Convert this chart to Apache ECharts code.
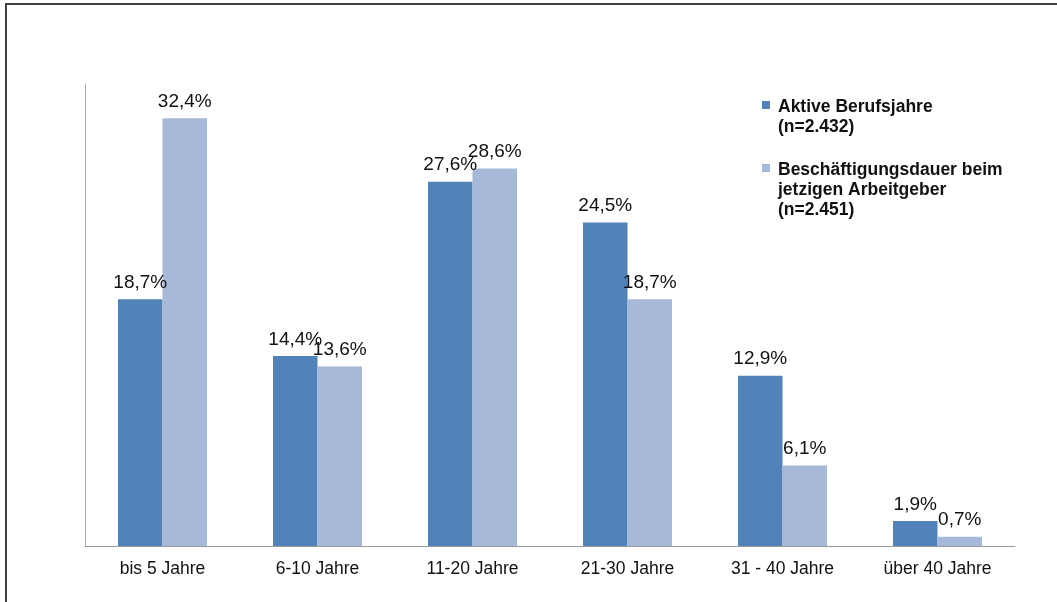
<!DOCTYPE html>
<html><head><meta charset="utf-8">
<script src="https://cdn.jsdelivr.net/npm/echarts@6/dist/echarts.min.js"></script>
<style>html,body{margin:0;padding:0;background:#fff}#c{width:1057px;height:602px}</style>
</head><body><div id="c"></div>
<script>
const categories = ['bis 5 Jahre', '6-10 Jahre', '11-20 Jahre', '21-30 Jahre', '31 - 40 Jahre', 'über 40 Jahre'];
const seriesNames = ['Aktive Berufsjahre\n(n=2.432)', 'Beschäftigungsdauer beim\njetzigen Arbeitgeber\n(n=2.451)'];
const aktive = [18.7, 14.4, 27.6, 24.5, 12.9, 1.9];
const beschaeftigung = [32.4, 13.6, 28.6, 18.7, 6.1, 0.7];
const colors = ['#5283b8', '#a6b9d9'];
const font = '"Liberation Sans", Arial, sans-serif';

const chart = echarts.init(document.getElementById('c'), null, {renderer: 'canvas'});
const lbl = {
  show: true, position: 'top', distance: 7,
  fontFamily: font, fontSize: 19, color: '#111',
  formatter: p => p.value.toFixed(1).replace('.', ',') + '%'
};
function legendCfg(idx, top, h) {
  const icon = 'path://M0,4h8v8h-8z M0,0h0.01v0.01h-0.01z M0,' + h + 'h0.01v0.01h-0.01z';
  return {
    orient: 'vertical', left: 762, top: top, padding: 0,
    itemWidth: 8, itemHeight: h, selectedMode: false,
    data: [{name: seriesNames[idx], icon: icon}],
    textStyle: {fontFamily: font, fontSize: 17.5, fontWeight: 'bold', color: '#111', lineHeight: 20, padding: [0, 0, 0, 3]}
  };
}
chart.setOption({
  animation: false,
  color: colors,
  graphic: [{
    type: 'rect', shape: {x: 6, y: 4, width: 1200, height: 800},
    style: {fill: 'none', stroke: '#404040', lineWidth: 2}, silent: true
  }],
  legend: [legendCfg(0, 97, 40), legendCfg(1, 160, 60)],
  grid: {left: 85, right: 42, top: 84, bottom: 56},
  xAxis: {
    type: 'category', data: categories,
    axisLine: {lineStyle: {color: '#999', width: 1}},
    axisTick: {show: false},
    axisLabel: {fontFamily: font, fontSize: 17.5, color: '#111', margin: 14}
  },
  yAxis: {
    type: 'value', min: 0, max: 35,
    axisLine: {show: true, lineStyle: {color: '#aaa', width: 1}},
    axisTick: {show: false}, axisLabel: {show: false}, splitLine: {show: false}
  },
  series: [
    {name: seriesNames[0], type: 'bar', data: aktive, barWidth: 44.5, barGap: '0%', label: lbl},
    {name: seriesNames[1], type: 'bar', data: beschaeftigung, barWidth: 44.5, barGap: '0%', label: lbl}
  ]
});
</script></body></html>
